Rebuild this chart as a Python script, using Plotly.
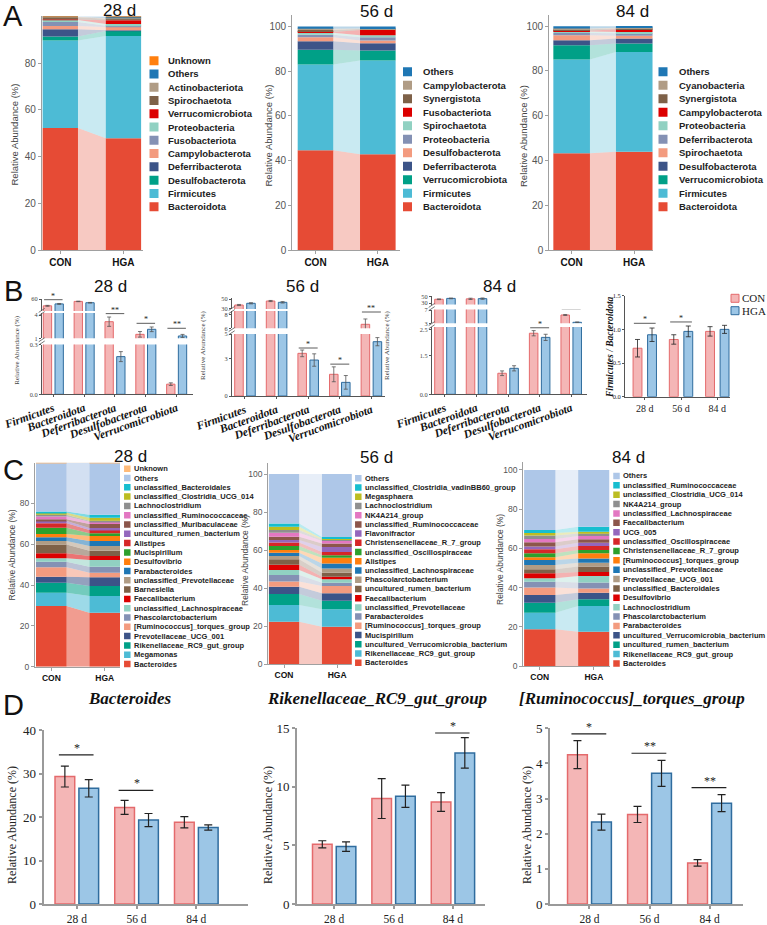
import plotly.graph_objects as go

W, H = 767, 925
SANS = "Liberation Sans, Arial, sans-serif"
SERIF = "Liberation Serif, Times New Roman, serif"

NPG = ["#E64B35", "#4DBBD5", "#00A087", "#3C5488", "#F39B7F", "#8491B4", "#91D1C2", "#DC0000", "#7E6148", "#B09C85"]
D3C = ["#1F77B4", "#FF7F0E", "#2CA02C", "#D62728", "#9467BD", "#8C564B", "#E377C2", "#8F8F8F", "#BCBD22", "#17BECF", "#AEC7E8", "#FFBB78"]
PAL = NPG + D3C

# ---------------- Panel A data (bottom-up order) ----------------
A28_names = ["Bacteroidota", "Firmicutes", "Desulfobacterota", "Deferribacterota", "Campylobacterota",
             "Fusobacteriota", "Proteobacteria", "Verrucomicrobiota", "Spirochaetota", "Actinobacteriota",
             "Others", "Unknown"]
A28_con = [52.2, 37.4, 1.7, 3.1, 1.4, 1.7, 0.9, 0.2, 1.0, 0.2, 0.1, 0.05]
A28_hga = [47.8, 43.8, 2.1, 0.3, 1.4, 0.5, 0.8, 1.6, 0.6, 0.4, 0.6, 0.1]

A56_names = ["Bacteroidota", "Firmicutes", "Verrucomicrobiota", "Deferribacterota", "Desulfobacterota",
             "Proteobacteria", "Spirochaetota", "Fusobacteriota", "Synergistota", "Campylobacterota", "Others"]
A56_con = [44.6, 38.4, 6.6, 3.8, 1.8, 1.2, 0.9, 0.3, 0.9, 0.5, 1.0]
A56_hga = [42.9, 41.9, 4.5, 3.2, 1.25, 1.45, 0.9, 2.4, 0.4, 0.3, 0.8]

A84_names = ["Bacteroidota", "Firmicutes", "Verrucomicrobiota", "Desulfobacterota", "Spirochaetota",
             "Deferribacterota", "Proteobacteria", "Campylobacterota", "Synergistota", "Cyanobacteria", "Others"]
A84_con = [43.2, 41.9, 6.4, 2.25, 2.25, 1.0, 0.6, 0.4, 0.6, 0.4, 1.0]
A84_hga = [43.9, 44.6, 3.8, 2.2, 1.2, 1.1, 0.6, 1.2, 0.4, 0.3, 0.7]

# ---------------- Panel B data ----------------
B_cats = ["Firmicutes", "Bacteroidota", "Deferribacterota", "Desulfobacterota", "Verrucomicrobiota"]
B28_con = [37.4, 52.2, 3.14, 1.51, 0.061]
B28_con_err = [1.5, 0.8, 0.6, 0.36, 0.008]
B28_hga = [43.8, 47.8, 0.227, 2.16, 1.3]
B28_hga_err = [1.5, 1.0, 0.03, 0.3, 0.2]
B28_sig = [(0, 2, 58.0, "*"), (2, 1, 4.18, "**"), (3, 1, 2.93, "*"), (4, 1, 2.29, "**")]

B56_con = [37.1, 45.7, 3.44, 1.75, 6.6]
B56_con_err = [1.2, 1.2, 0.27, 0.6, 0.8]
B56_hga = [40.8, 42.9, 2.9, 1.1, 4.38]
B56_hga_err = [1.2, 1.5, 0.5, 0.55, 0.33]
B56_sig = [(2, 0, 3.87, "*"), (3, 0, 2.57, "*"), (4, 1, 8.45, "**")]

B84_con = [41.9, 43.2, 0.81, 2.35, 5.5]
B84_con_err = [1.0, 2.0, 0.09, 0.1, 0.15]
B84_hga = [44.6, 43.9, 1.0, 2.19, 3.3]
B84_hga_err = [1.0, 2.0, 0.1, 0.12, 0.1]
B84_sig = [(3, 0, 2.56, "*"), (4, 1, 7.3, "*")]

R_days = ["28 d", "56 d", "84 d"]
R_con = [0.72, 0.85, 0.97]
R_con_err = [0.13, 0.07, 0.07]
R_hga = [0.92, 0.97, 1.00]
R_hga_err = [0.10, 0.08, 0.06]
R_sig = [(0, 1.09, "*"), (1, 1.11, "*")]

# ---------------- Panel C data (bottom-up order) ----------------
C28_names = ["Bacteroides", "Megamonas", "Rikenellaceae_RC9_gut_group", "Prevotellaceae_UCG_001",
             "[Ruminococcus]_torques_group", "Phascolarctobacterium", "unclassified_Lachnospiraceae",
             "Faecalibacterium", "Barnesiella", "unclassified_Prevotellaceae", "Parabacteroides", "Desulfovibrio",
             "Mucispirillum", "Alistipes", "uncultured_rumen_bacterium", "unclassified_Muribaculaceae",
             "unclassified_Ruminococcaceae", "Lachnoclostridium", "unclassified_Clostridia_UCG_014",
             "unclassified_Bacteroidales", "Others", "Unknown"]
C28_con = [29.7, 6.5, 4.9, 3.0, 4.6, 2.7, 1.7, 2.4, 4.4, 1.7, 1.8, 1.6, 3.1, 2.1, 1.2, 0.8, 1.4, 0.8, 1.0, 0.6, 23.9, 0.1]
C28_hga = [26.4, 8.2, 4.9, 4.3, 2.2, 3.0, 3.2, 2.0, 2.6, 2.3, 2.5, 2.4, 1.3, 1.7, 0.9, 2.0, 1.1, 0.5, 1.5, 1.4, 25.5, 0.1]

C56_names = ["Bacteroides", "Rikenellaceae_RC9_gut_group", "uncultured_Verrucomicrobia_bacterium", "Mucispirillum",
             "[Ruminococcus]_torques_group", "Parabacteroides", "unclassified_Prevotellaceae", "Faecalibacterium",
             "uncultured_rumen_bacterium", "Phascolarctobacterium", "unclassified_Lachnospiraceae", "Alistipes",
             "unclassified_Oscillospiraceae", "Christensenellaceae_R_7_group", "Flavonifractor",
             "unclassified_Ruminococcaceae", "NK4A214_group", "Lachnoclostridium", "Megasphaera",
             "unclassified_Clostridia_vadinBB60_group", "Others"]
C56_con = [22.3, 8.8, 5.7, 3.9, 2.7, 3.5, 2.6, 2.7, 2.9, 1.7, 1.8, 1.4, 2.1, 1.9, 1.3, 1.7, 2.1, 1.4, 1.8, 1.7, 26.0]
C56_hga = [19.6, 9.2, 4.5, 3.9, 3.9, 1.7, 1.8, 1.3, 2.1, 2.3, 2.6, 3.0, 1.4, 1.7, 2.6, 1.8, 1.4, 0.7, 0.5, 0.9, 33.1]

C84_names = ["Bacteroides", "Rikenellaceae_RC9_gut_group", "uncultured_rumen_bacterium",
             "uncultured_Verrucomicrobia_bacterium", "Parabacteroides", "Phascolarctobacterium", "Lachnoclostridium",
             "Desulfovibrio", "unclassified_Bacteroidales", "Prevotellaceae_UCG_001", "unclassified_Prevotellaceae",
             "[Ruminococcus]_torques_group", "Christensenellaceae_R_7_group", "unclassified_Oscillospiraceae",
             "UCG_005", "Faecalibacterium", "unclassified_Lachnospiraceae", "NK4A214_group",
             "unclassified_Clostridia_UCG_014", "unclassified_Ruminococcaceae", "Others"]
C84_con = [18.7, 8.5, 5.1, 3.9, 3.9, 2.9, 1.7, 2.6, 2.0, 2.2, 2.6, 1.4, 2.0, 2.1, 1.3, 2.2, 1.7, 1.7, 1.3, 1.6, 30.6]
C84_hga = [17.5, 13.1, 3.4, 3.4, 2.1, 3.1, 3.3, 2.0, 2.8, 2.0, 2.1, 2.7, 1.7, 2.0, 1.7, 1.7, 1.7, 1.3, 0.9, 2.5, 29.0]

# ---------------- Panel D data ----------------
D_days = ["28 d", "56 d", "84 d"]
D_bac_con = [29.3, 22.2, 18.8]
D_bac_con_err = [2.4, 1.6, 1.3]
D_bac_hga = [26.6, 19.3, 17.6]
D_bac_hga_err = [2.0, 1.5, 0.6]
D_bac_sig = [(0, 34.3, "*"), (1, 26.1, "*")]

D_rik_con = [5.1, 9.0, 8.7]
D_rik_con_err = [0.3, 1.7, 0.8]
D_rik_hga = [4.9, 9.2, 12.9]
D_rik_hga_err = [0.4, 0.95, 1.3]
D_rik_sig = [(2, 14.6, "*")]

D_rum_con = [4.25, 2.55, 1.17]
D_rum_con_err = [0.4, 0.23, 0.09]
D_rum_hga = [2.33, 3.72, 2.87]
D_rum_hga_err = [0.23, 0.37, 0.24]
D_rum_sig = [(0, 4.84, "*"), (1, 4.29, "**"), (2, 3.31, "**")]

# =====================================================================
fig = go.Figure()
axes_layout = {}
annotations = []
shapes = []
n_ax = [0]


def clamp(v):
    return max(0.0, min(1.0, v))


def new_axes(x0, x1, ytop, ybot, xa, ya):
    n_ax[0] += 1
    n = n_ax[0]
    s = "" if n == 1 else str(n)
    xa = dict(xa)
    ya = dict(ya)
    xa.update(domain=[clamp(x0 / W), clamp(x1 / W)], anchor="y" + s, showgrid=False, zeroline=False,
              automargin=False)
    ya.update(domain=[clamp(1 - ybot / H), clamp(1 - ytop / H)], anchor="x" + s, showgrid=False,
              zeroline=False, automargin=False)
    axes_layout["xaxis" + s] = xa
    axes_layout["yaxis" + s] = ya
    return "x" + s, "y" + s


def text(t, x, y, size, family=SANS, color="#111", xanchor="center", yanchor="middle",
         angle=0, weight="normal", style="normal"):
    annotations.append(dict(text=t, x=x / W, y=1 - y / H, xref="paper", yref="paper", showarrow=False,
                            xanchor=xanchor, yanchor=yanchor, textangle=angle,
                            font=dict(size=size, family=family, color=color, weight=weight, style=style)))


def rgba(hexc, a):
    h = hexc.lstrip("#")
    r, g, b = int(h[0:2], 16), int(h[2:4], 16), int(h[4:6], 16)
    return f"rgba({r},{g},{b},{a})"


def legend_block(x_sq, x_txt, y_first, spacing, names, colors, size, sq):
    names = list(reversed(names))
    colors = list(reversed(colors))
    n = len(names)
    ytop = y_first - spacing
    ybot = y_first + n * spacing
    xa, ya = new_axes(x_sq - sq, x_sq + sq, ytop, ybot,
                      dict(visible=False, range=[x_sq - sq, x_sq + sq]),
                      dict(visible=False, range=[ybot, ytop]))
    ys = [y_first + i * spacing for i in range(n)]
    fig.add_trace(go.Scatter(x=[x_sq] * n, y=ys, mode="markers",
                             marker=dict(symbol="square", size=sq, color=colors, line=dict(width=0)),
                             xaxis=xa, yaxis=ya, hoverinfo="skip", showlegend=False))
    for nm, yy in zip(names, ys):
        text(nm, x_txt, yy, size, color="#222", xanchor="left", weight="bold")


def stacked_panel(x0, x1, ytop, ybot, yr, yticks, xr, bw, names, con, hga, alpha, tfs, xfs):
    xa, ya = new_axes(
        x0, x1, ytop, ybot,
        dict(range=xr, tickvals=[0, 1], ticktext=["CON", "HGA"], showline=True, linecolor="#a0a0a0",
             linewidth=1.2, ticks="outside", ticklen=3, tickcolor="#a0a0a0",
             tickfont=dict(family=SANS, size=xfs, color="#111", weight="bold")),
        dict(range=yr, tickvals=yticks, showline=True, linecolor="#a0a0a0", linewidth=1.2,
             ticks="outside", ticklen=3, tickcolor="#a0a0a0",
             tickfont=dict(family=SANS, size=tfs, color="#555")))
    bc, bh = 0.0, 0.0
    for i, (c, h) in enumerate(zip(con, hga)):
        col = PAL[i]
        fig.add_trace(go.Bar(x=[0, 1], y=[c, h], base=[bc, bh], width=bw,
                             marker=dict(color=col, line=dict(width=0)),
                             xaxis=xa, yaxis=ya, hoverinfo="skip", showlegend=False))
        fig.add_trace(go.Scatter(x=[bw / 2, bw / 2, 1 - bw / 2, 1 - bw / 2, bw / 2],
                                 y=[bc, bc + c, bh + h, bh, bc], mode="lines", fill="toself",
                                 fillcolor=rgba(col, alpha), line=dict(width=0),
                                 xaxis=xa, yaxis=ya, hoverinfo="skip", showlegend=False))
        bc += c
        bh += h
    return xa, ya


CON_FILL, CON_LINE = "#F4B6B6", "#E46A6C"
HGA_FILL, HGA_LINE = "#9CC6E6", "#2F6C9E"


def break_mark(x, y):
    # two small slanted strokes marking an axis break (pixel position)
    for dy in (-1.6, 1.6):
        shapes.append(dict(type="line", xref="paper", yref="paper",
                           x0=(x - 3) / W, x1=(x + 3) / W,
                           y0=1 - (y + dy + 2) / H, y1=1 - (y + dy - 2) / H,
                           line=dict(color="#555", width=0.8)))


def broken_panel(x0, x1, segs, con, con_e, hga, hga_e, xr, sigs):
    seg_axes = []
    for k, (ytop, ybot, yr, tv, tt) in enumerate(segs):
        if k == 0:
            xa_d = dict(range=xr, tickvals=list(range(len(B_cats))), ticktext=B_cats, tickangle=-20,
                        showline=True, linecolor="#555", linewidth=0.8, ticks="outside", ticklen=2,
                        tickcolor="#555",
                        tickfont=dict(family=SERIF, size=11.5, color="#111", weight="bold", style="italic"))
        else:
            xa_d = dict(range=xr, visible=False)
            break_mark(x0, (ybot + segs[k - 1][0]) / 2)
        xa, ya = new_axes(x0, x1, ytop, ybot, xa_d,
                          dict(range=yr, tickvals=tv, ticktext=tt, showline=True, linecolor="#555",
                               linewidth=0.8, ticks="outside", ticklen=2, tickcolor="#555",
                               tickfont=dict(family=SERIF, size=6.3, color="#444")))
        seg_axes.append((xa, ya))
        xs = list(range(len(B_cats)))
        fig.add_trace(go.Bar(x=xs, y=con, offset=-0.325, width=0.27,
                             marker=dict(color=CON_FILL, line=dict(color=CON_LINE, width=1)),
                             error_y=dict(type="data", array=con_e, color="#555", thickness=0.8, width=2),
                             xaxis=xa, yaxis=ya, hoverinfo="skip", showlegend=False))
        fig.add_trace(go.Bar(x=xs, y=hga, offset=0.055, width=0.27,
                             marker=dict(color=HGA_FILL, line=dict(color=HGA_LINE, width=1)),
                             error_y=dict(type="data", array=hga_e, color="#555", thickness=0.8, width=2),
                             xaxis=xa, yaxis=ya, hoverinfo="skip", showlegend=False))
    for (ci, si, yv, lab) in sigs:
        xa, ya = seg_axes[si]
        shapes.append(dict(type="line", xref=xa, yref=ya, x0=ci - 0.3, x1=ci + 0.3, y0=yv, y1=yv,
                           line=dict(color="#333", width=0.8)))
        annotations.append(dict(text=lab, x=ci, y=yv, xref=xa, yref=ya, showarrow=False, yanchor="bottom",
                                yshift=-3, font=dict(family=SERIF, size=8, color="#222")))


def group_panel(x0, x1, ytop, ybot, xr, yr, ytv, yfs, xfs, labels, con, con_e, hga, hga_e, sigs,
                con_off, hga_off, bw, lw, lcolor, ticklen, starsize, ytt=None, ethick=1.2, ewidth=4,
                barlw=1.5, sigw=1.2):
    ya_d = dict(range=yr, tickvals=ytv, showline=True, linecolor=lcolor, linewidth=lw, ticks="outside",
                ticklen=ticklen, tickcolor=lcolor, tickwidth=lw,
                tickfont=dict(family=SERIF, size=yfs, color="#222"))
    if ytt is not None:
        ya_d["ticktext"] = ytt
    xa, ya = new_axes(
        x0, x1, ytop, ybot,
        dict(range=xr, tickvals=list(range(len(labels))), ticktext=labels, showline=True, linecolor=lcolor,
             linewidth=lw, ticks="outside", ticklen=ticklen, tickcolor=lcolor, tickwidth=lw,
             tickfont=dict(family=SERIF, size=xfs, color="#222")),
        ya_d)
    xs = list(range(len(labels)))
    fig.add_trace(go.Bar(x=xs, y=con, offset=con_off, width=bw,
                         marker=dict(color=CON_FILL, line=dict(color=CON_LINE, width=barlw)),
                         error_y=dict(type="data", array=con_e, color="#222", thickness=ethick, width=ewidth),
                         xaxis=xa, yaxis=ya, hoverinfo="skip", showlegend=False))
    fig.add_trace(go.Bar(x=xs, y=hga, offset=hga_off, width=bw,
                         marker=dict(color=HGA_FILL, line=dict(color=HGA_LINE, width=barlw)),
                         error_y=dict(type="data", array=hga_e, color="#222", thickness=ethick, width=ewidth),
                         xaxis=xa, yaxis=ya, hoverinfo="skip", showlegend=False))
    for (ci, yv, lab) in sigs:
        shapes.append(dict(type="line", xref=xa, yref=ya, x0=ci - 0.3, x1=ci + 0.28, y0=yv, y1=yv,
                           line=dict(color="#222", width=sigw)))
        annotations.append(dict(text=lab, x=ci, y=yv, xref=xa, yref=ya, showarrow=False, yanchor="bottom",
                                yshift=-2, font=dict(family=SERIF, size=starsize, color="#222")))
    return xa, ya


# ======================= Panel A =======================
stacked_panel(42, 143, 16.25, 250, [0, 100], [0, 20, 40, 60, 80], [-0.29, 1.31], 0.56,
              A28_names, A28_con, A28_hga, 0.3, 10, 10)
stacked_panel(292.3, 400, 15, 250, [0, 105.2], [0, 20, 40, 60, 80, 100], [-0.372, 1.356], 0.571,
              A56_names, A56_con, A56_hga, 0.3, 10, 10)
stacked_panel(549.3, 653, 15, 250, [0, 105], [0, 20, 40, 60, 80, 100], [-0.357, 1.30], 0.585,
              A84_names, A84_con, A84_hga, 0.3, 10, 10)

legend_block(154, 165.5, 60.7, 13.27, A28_names, PAL[:len(A28_names)], 9.5, 9)
legend_block(407.5, 420.5, 71.7, 13.5, A56_names, PAL[:len(A56_names)], 9.5, 9)
legend_block(663, 677, 71.7, 13.5, A84_names, PAL[:len(A84_names)], 9.5, 9)

text("A", 13, 16, 29)
text("28 d", 119, 11, 17)
text("56 d", 376, 12, 17)
text("84 d", 632, 12, 17)
text("Relative Abundance (%)", 13.5, 135, 9.5, color="#444", angle=-90)
text("Relative Abundance (%)", 267.5, 136, 9.5, color="#444", angle=-90)
text("Relative Abundance (%)", 523, 136, 9.5, color="#444", angle=-90)

# ======================= Panel B =======================
broken_panel(41.7, 193, [
    (344.5, 394.3, [0, 0.3], [0, 0.3], ["0.0", "0.3"]),
    (313, 338.3, [1, 4.26], [1, 4], ["1", "4"]),
    (298.5, 311, [20, 62], [60], ["60"]),
], B28_con, B28_con_err, B28_hga, B28_hga_err, [-0.377, 4.53], B28_sig)

broken_panel(231.7, 385, [
    (334, 396, [0, 5], [0, 3, 5], ["0", "3", "5"]),
    (311, 328.3, [6, 8.6], [6, 8], ["6", "8"]),
    (298, 309, [28.5, 52.2], [30, 50], ["30", "50"]),
], B56_con, B56_con_err, B56_hga, B56_hga_err, [-0.42, 4.43], B56_sig)

broken_panel(431.7, 587, [
    (327, 394.3, [0, 2.59], [0, 1.5, 2.5], ["0.0", "1.5", "2.5"]),
    (309.5, 323.3, [3, 7.15], [3, 7], ["3", "7"]),
    (295.5, 304.5, [25.7, 53.6], [30, 50], ["30", "50"]),
], B84_con, B84_con_err, B84_hga, B84_hga_err, [-0.42, 4.5], B84_sig)

group_panel(625, 730, 295.7, 396.7, [-0.545, 2.35], [0, 1.5], [0, 0.5, 1.0, 1.5], 6.5, 10,
            R_days, R_con, R_con_err, R_hga, R_hga_err, [],
            -0.3225, 0.0775, 0.245, 0.8, "#555", 2, 8, ytt=["0.0", "0.5", "1.0", "1.5"],
            ethick=0.8, ewidth=2.5, barlw=1)
xr_r = "x" + str(n_ax[0])
yr_r = "y" + str(n_ax[0])
for (ci, yv, lab) in R_sig:
    shapes.append(dict(type="line", xref=xr_r, yref=yr_r, x0=ci - 0.3, x1=ci + 0.3, y0=yv, y1=yv,
                       line=dict(color="#333", width=0.8)))
    annotations.append(dict(text=lab, x=ci, y=yv, xref=xr_r, yref=yr_r, showarrow=False, yanchor="bottom",
                            yshift=-3, font=dict(family=SERIF, size=8, color="#222")))

# B legend (CON / HGA)
lx, ly = new_axes(729, 741, 292, 317, dict(visible=False, range=[729, 741]), dict(visible=False, range=[317, 292]))
fig.add_trace(go.Scatter(x=[735, 735], y=[298.3, 310.7], mode="markers",
                         marker=dict(symbol="square", size=8, color=[CON_FILL, HGA_FILL],
                                     line=dict(color=[CON_LINE, HGA_LINE], width=1)),
                         xaxis=lx, yaxis=ly, hoverinfo="skip", showlegend=False))
text("CON", 740, 298.3, 11, family=SERIF, color="#222", xanchor="left")
text("HGA", 740, 310.7, 11, family=SERIF, color="#222", xanchor="left")

text("B", 13, 291, 29)
text("28 d", 111, 287, 17)
text("56 d", 302, 287, 17)
text("84 d", 499, 287, 17)
text("Relative Abundance (%)", 16.7, 350, 7, family=SERIF, color="#444", angle=-90)
text("Relative Abundance (%)", 203, 345, 7, family=SERIF, color="#444", angle=-90)
text("Relative Abundance (%)", 387, 345, 7, family=SERIF, color="#444", angle=-90)
text("Firmicutes / Bacteroidota", 610, 347, 9.5, family=SERIF, color="#111", angle=-90,
     weight="bold", style="italic")

# ======================= Panel C =======================
stacked_panel(35, 120, 462.5, 666.7, [0, 100], [0, 20, 40, 60, 80], [-0.306, 1.287], 0.575,
              C28_names, C28_con, C28_hga, 0.55, 8.5, 8.5)
stacked_panel(268.3, 352.5, 463, 664, [0, 105.8], [0, 20, 40, 60, 80, 100], [-0.296, 1.29], 0.572,
              C56_names, C56_con, C56_hga, 0.3, 8.5, 8.5)
stacked_panel(523.3, 609.5, 461.7, 666, [0, 104.2], [0, 20, 40, 60, 80, 100], [-0.305, 1.29], 0.58,
              C84_names, C84_con, C84_hga, 0.3, 8.5, 8.5)

legend_block(127.3, 131.8, 468.7, 9.3, C28_names, PAL[:len(C28_names)], 7.5, 6.5)
legend_block(358.3, 362.8, 478.3, 9.22, C56_names, PAL[:len(C56_names)], 7.5, 6.5)
legend_block(616.5, 621, 476, 9.37, C84_names, PAL[:len(C84_names)], 7.5, 6.5)

text("C", 13, 470, 29)
text("28 d", 130, 456, 17)
text("56 d", 376, 457, 17)
text("84 d", 628, 457, 17)
text("Relative Abundance (%)", 11.5, 555, 8.5, color="#444", angle=-90)
text("Relative Abundance (%)", 245, 560, 8.5, color="#444", angle=-90)
text("Relative Abundance (%)", 500, 560, 8.5, color="#444", angle=-90)

# ======================= Panel D =======================
group_panel(43.6, 247.5, 730, 904, [-0.556, 2.857], [0, 40], [0, 10, 20, 30, 40], 13, 11.5,
            D_days, D_bac_con, D_bac_con_err, D_bac_hga, D_bac_hga_err, D_bac_sig,
            -0.365, 0.035, 0.33, 1.8, "#9a9a9a", 3, 12)
group_panel(297, 485, 728.3, 904, [-0.626, 2.54], [0, 15], [0, 5, 10, 15], 13, 11.5,
            D_days, D_rik_con, D_rik_con_err, D_rik_hga, D_rik_hga_err, D_rik_sig,
            -0.365, 0.035, 0.33, 1.8, "#9a9a9a", 3, 12)
group_panel(550, 742.6, 728.3, 904, [-0.657, 2.55], [0, 5], [0, 1, 2, 3, 4, 5], 13, 11.5,
            D_days, D_rum_con, D_rum_con_err, D_rum_hga, D_rum_hga_err, D_rum_sig,
            -0.365, 0.035, 0.33, 1.8, "#9a9a9a", 3, 12)

text("D", 13, 705, 29)
text("Bacteroides", 130, 698, 17, family=SERIF, weight="bold", style="italic")
text("Rikenellaceae_RC9_gut_group", 377, 698, 17, family=SERIF, weight="bold", style="italic")
text("[Ruminococcus]_torques_group", 632, 698, 17, family=SERIF, weight="bold", style="italic")
text("Relative Abundance (%)", 12, 825, 12, family=SERIF, color="#222", angle=-90)
text("Relative Abundance (%)", 268, 825, 12, family=SERIF, color="#222", angle=-90)
text("Relative Abundance (%)", 527, 825, 12, family=SERIF, color="#222", angle=-90)

fig.update_layout(
    width=W, height=H, margin=dict(l=0, r=0, t=0, b=0, pad=0, autoexpand=False),
    paper_bgcolor="white", plot_bgcolor="white",
    barmode="overlay", showlegend=False,
    annotations=annotations, shapes=shapes,
    **axes_layout,
)
fig.write_html("out.html")
